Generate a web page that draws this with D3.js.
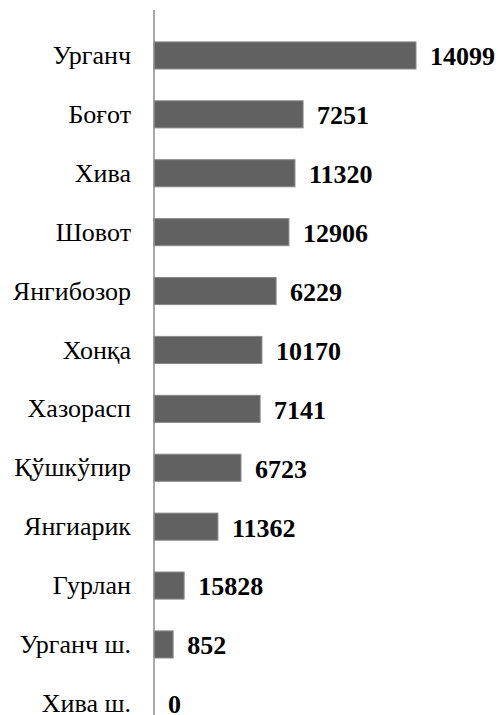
<!DOCTYPE html>
<html lang="uz">
<head>
    <meta charset="UTF-8">
    <title>bars</title>
    <script src="https://cdn.jsdelivr.net/npm/d3@7"></script>
    <style>
        body{ margin:0; background:#fff; }
        svg{ display:block; }
    </style>
</head>
<body>
</body>
<script type="text/javascript">

    // districts, top to bottom
    let districts = ["Урганч","Боғот","Хива","Шовот","Янгибозор","Хонқа",
                     "Хазорасп","Қўшкўпир","Янгиарик","Гурлан","Урганч ш.","Хива ш."];
    // bar lengths (relative, longest bar = 100)
    let barValues = [100, 56.9, 53.8, 51.5, 46.6, 41.2, 40.5, 33.2, 24.4, 11.5, 7.3, 0];
    // numbers written next to the bars
    let labelValues = [14099, 7251, 11320, 12906, 6229, 10170, 7141, 6723, 11362, 15828, 852, 0];

    let data = districts.map((d,i)=>({name:d, bar:barValues[i], label:labelValues[i]}));

    let width = 500, height = 715;
    let axisX = 154;
    let fontFam = "Liberation Serif, Times New Roman, serif";

    let svg = d3.select("body")
        .append("svg")
        .attr("width",width)
        .attr("height",height);

    let x = d3.scaleLinear()
        .domain([0,100])
        .range([axisX, axisX+262]);

    let y = d3.scaleBand()
        .domain(districts)
        .range([26, 26+12*58.9])
        .paddingInner(0.54)
        .paddingOuter(0.27);

    svg.selectAll("rect.bar")
        .data(data)
        .enter()
        .append("rect")
        .attr("class","bar")
        .attr("x",x(0))
        .attr("y",d=>y(d.name))
        .attr("width",d=>x(d.bar)-x(0))
        .attr("height",y.bandwidth())
        .attr("fill","#616161")
        .attr("stroke","#8a8a8a")
        .attr("stroke-width",1)
        .attr("display",d=>d.bar>0?null:"none");

    // category labels
    svg.selectAll("text.cat")
        .data(data)
        .enter()
        .append("text")
        .attr("class","cat")
        .attr("x",131)
        .attr("y",d=>y(d.name)+y.bandwidth()/2)
        .attr("dy","0.33em")
        .attr("text-anchor","end")
        .attr("font-family",fontFam)
        .attr("font-size",26)
        .attr("fill","#000")
        .text(d=>d.name);

    // value labels
    svg.selectAll("text.val")
        .data(data)
        .enter()
        .append("text")
        .attr("class","val")
        .attr("x",d=>x(d.bar)+14)
        .attr("y",d=>y(d.name)+y.bandwidth()/2)
        .attr("dy","0.38em")
        .attr("font-family",fontFam)
        .attr("font-weight","bold")
        .attr("font-size",26)
        .attr("fill","#000")
        .text(d=>d.label);

    // vertical axis line
    svg.append("line")
        .attr("x1",axisX).attr("x2",axisX)
        .attr("y1",10).attr("y2",height)
        .attr("stroke","#8c8c8c")
        .attr("stroke-width",1.5);

</script>
</html>
